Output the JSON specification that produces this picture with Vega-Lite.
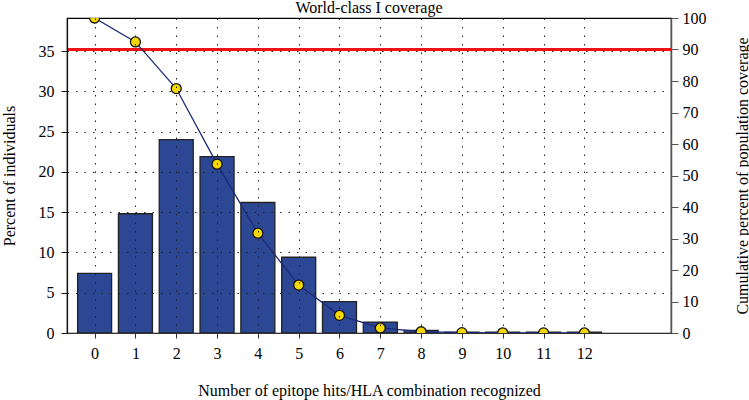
{
  "$schema": "https://vega.github.io/schema/vega-lite/v6.json",
  "width": 604,
  "height": 315,
  "autosize": {"type": "none"},
  "padding": {"left": 67, "top": 18, "right": 78, "bottom": 67},
  "title": {"text": "World-class I coverage", "fontSize": 16, "fontWeight": "normal", "font": "Liberation Serif", "color": "#000", "baseline": "alphabetic", "offset": -19},
  "data": {"values": [
    {"k": 0, "pct": 7.4, "cum": 100},
    {"k": 1, "pct": 14.8, "cum": 92.4},
    {"k": 2, "pct": 24.0, "cum": 77.6},
    {"k": 3, "pct": 21.9, "cum": 53.6},
    {"k": 4, "pct": 16.2, "cum": 31.7},
    {"k": 5, "pct": 9.4, "cum": 15.2},
    {"k": 6, "pct": 3.9, "cum": 5.6},
    {"k": 7, "pct": 1.35, "cum": 1.6},
    {"k": 8, "pct": 0.33, "cum": 0.4},
    {"k": 9, "pct": 0.1, "cum": 0.1},
    {"k": 10, "pct": 0.1, "cum": 0.05},
    {"k": 11, "pct": 0.1, "cum": 0.03},
    {"k": 12, "pct": 0.1, "cum": 0.01}
  ]},
  "config": {
    "font": "Liberation Serif",
    "view": {"stroke": "#000", "strokeWidth": 1.2},
    "axis": {"labelFont": "Liberation Serif", "labelFontSize": 16, "labelColor": "#000", "titleFont": "Liberation Serif", "titleFontSize": 16, "titleFontWeight": "normal", "titleColor": "#000"}
  },
  "layer": [
    {
      "mark": {"type": "bar", "width": 34, "fill": "#2c4895", "stroke": "#222", "strokeWidth": 1.3},
      "encoding": {
        "x": {"field": "k", "type": "quantitative", "scale": {"domain": [-0.554, 14], "nice": false, "zero": false},
          "axis": {"values": [0,1,2,3,4,5,6,7,8,9,10,11,12], "title": "Number of epitope hits/HLA combination recognized", "grid": true, "gridDash": [1.5, 7], "gridColor": "#222", "gridWidth": 1, "zindex": 1, "tickSize": 5, "labelPadding": 7, "titleBaseline": "middle", "titleY": 57, "titleX": 302, "domainColor": "#333", "tickColor": "#333", "domainWidth": 1.2}},
        "y": {"field": "pct", "type": "quantitative", "scale": {"domain": [0, 39.1], "nice": false},
          "axis": {"orient": "left", "values": [0,5,10,15,20,25,30,35], "title": "Percent of individuals", "grid": true, "gridDash": [1.5, 7], "gridColor": "#222", "zindex": 1, "tickSize": 6, "labelPadding": 7, "titleAngle": 270, "titleBaseline": "middle", "titleAlign": "center", "titleX": -58, "titleY": 157.5, "domainColor": "#111", "tickColor": "#111", "domainWidth": 1.2}}
      }
    },
    {
      "resolve": {"scale": {"y": "shared"}, "axis": {"y": "shared"}},
      "encoding": {
        "x": {"field": "k", "type": "quantitative"},
        "y": {"field": "cum", "type": "quantitative", "scale": {"domain": [0, 100], "nice": false},
          "axis": {"orient": "right", "values": [0,10,20,30,40,50,60,70,80,90,100], "title": "Cumulative percent of population coverage", "grid": false, "tickSize": 7, "labelPadding": 4, "titleAngle": 270, "titleBaseline": "middle", "titleAlign": "center", "titleX": 71, "titleY": 157.5, "domainColor": "#555", "tickColor": "#555", "domainWidth": 1.5}}
      },
      "layer": [
        {"mark": {"type": "rule", "stroke": "#ee1111", "color": "#ee1111", "strokeWidth": 1.3, "opacity": 1}, "encoding": {"x": {"value": 0}, "x2": {"value": 604}, "y": {"datum": 90, "type": "quantitative"}, "color": {"value": "#ee1111"}}},
        {"mark": {"type": "line", "color": "#1c2a7a", "strokeWidth": 1.3, "clip": true}},
        {"mark": {"type": "point", "shape": "circle", "filled": true, "fill": "#f5d800", "stroke": "#111", "strokeWidth": 1.3, "size": 100, "opacity": 1, "clip": true}}
      ]
    }
  ],
  "resolve": {"scale": {"y": "independent"}}
}
